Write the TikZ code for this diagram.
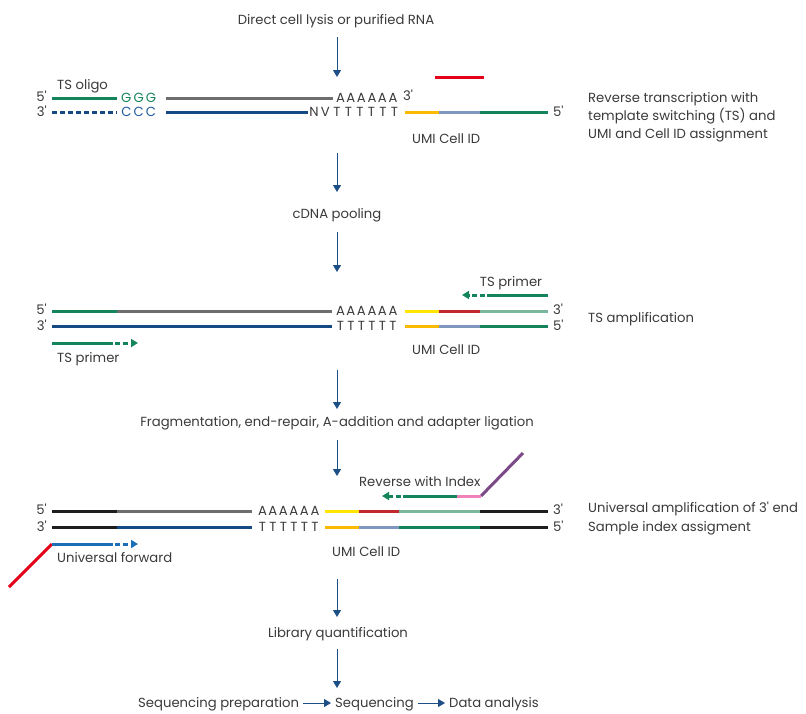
\documentclass[tikz,border=0pt]{standalone}
\usepackage{fontspec}
\setmainfont{Poppins}
\usetikzlibrary{arrows.meta}
\definecolor{txtc}{HTML}{3A3A3A}
\definecolor{flowc}{HTML}{1D4F87}
\definecolor{tsgreen}{HTML}{14855A}
\definecolor{strgray}{HTML}{6D6D6D}
\definecolor{dblue}{HTML}{164A85}
\definecolor{yel}{HTML}{FFE600}
\definecolor{ora}{HTML}{FBBA00}
\definecolor{lblue}{HTML}{7F97C0}
\definecolor{redbar}{HTML}{E2001A}
\definecolor{dred}{HTML}{C1272D}
\definecolor{lgreen}{HTML}{7AB79C}
\definecolor{blk}{HTML}{1E1E1E}
\definecolor{pinkc}{HTML}{EE82B9}
\definecolor{purp}{HTML}{7D4A88}
\definecolor{ublue}{HTML}{1C6FB7}
\definecolor{cccblue}{HTML}{1F5AA0}
\newcommand\Lx[1]{\makebox[10.5pt]{#1}}
\newcommand\Ly[1]{\makebox[11.5pt]{#1}}
\newcommand\Lg[1]{\makebox[12.3pt]{#1}}
\newcommand\pr{\textquotesingle}
\begin{document}
\begin{tikzpicture}[x=1pt,y=-1pt,
  font=\fontsize{13.2}{16}\selectfont,
  lbl/.style={inner sep=0pt, text=txtc, text height=9pt, text depth=0pt},
  flow/.style={draw=flowc, line width=1pt, -{Triangle[width=8pt,length=7pt]}},
  strand/.style={line width=3pt},
  dsh/.style={line width=3pt, dash pattern=on 5pt off 3pt},
  tip/.style={-{Triangle[width=8pt,length=7pt]}}]
\useasboundingbox (0,0) rectangle (806,713);

% ---------- flow column ----------
\node[lbl] (lysis) at (336,20) {Direct cell lysis or purified RNA};
\coordinate (a1s) at (337,37); \coordinate (a1e) at (337,77);
\draw[flow] (a1s) -- (a1e);

% ---------- row 1 ----------
\node[lbl, anchor=east] (r1f5) at (47,97) {5\pr};
\node[lbl, anchor=east] (r1f3) at (47,112) {3\pr};
\node[lbl, anchor=west] (tsoligo) at (57,85) {TS oligo};
\coordinate (r1a) at (52,98); \coordinate (r1b) at (117,98);
\draw[strand, tsgreen] (r1a) -- (r1b);
\node[lbl, anchor=west, text=tsgreen] (ggg) at (120,98) {\Lg G\Lg G\Lg G};
\coordinate (r1c) at (166,98); \coordinate (r1d) at (333,98);
\draw[strand, strgray] (r1c) -- (r1d);
\node[lbl, anchor=west] (r1A) at (335,98) {\Lx A\Lx A\Lx A\Lx A\Lx A\Lx A};
\node[lbl, anchor=west] (r1t3) at (403,96) {3\pr};
\coordinate (r1e) at (52,112); \coordinate (r1f) at (117,112);
\draw[dsh, dblue] (r1e) -- (r1f);
\node[lbl, anchor=west, text=cccblue] (ccc) at (120,112) {\Lg C\Lg C\Lg C};
\coordinate (r1g) at (166,112); \coordinate (r1h) at (308,112);
\draw[strand, dblue] (r1g) -- (r1h);
\node[lbl, anchor=west] (r1T) at (308,112) {\Ly N\Ly V\Ly T\Ly T\Ly T\Ly T\Ly T\Ly T};
\coordinate (r1i) at (405,112); \coordinate (r1j) at (439,112);
\coordinate (r1k) at (480,112); \coordinate (r1l) at (548,112);
\draw[strand, ora] (r1i) -- (r1j);
\draw[strand, lblue] (r1j) -- (r1k);
\draw[strand, tsgreen] (r1k) -- (r1l);
\node[lbl, anchor=west] (r1b5) at (553,112) {5\pr};
\coordinate (rb1) at (435,77); \coordinate (rb2) at (484,77);
\draw[strand, redbar] (rb1) -- (rb2);
\node[lbl, anchor=west] (umi1) at (412,139) {UMI Cell ID};
\node[lbl, anchor=west, text depth=0pt] (d1a) at (588,98) {Reverse transcription with};
\node[lbl, anchor=west] (d1b) at (588,116) {template switching (TS) and};
\node[lbl, anchor=west] (d1c) at (588,134) {UMI and Cell ID assignment};

\coordinate (a2s) at (337,153); \coordinate (a2e) at (337,192);
\draw[flow] (a2s) -- (a2e);
\node[lbl] (pool) at (337,214) {cDNA pooling};
\coordinate (a3s) at (337,232); \coordinate (a3e) at (337,272);
\draw[flow] (a3s) -- (a3e);

% ---------- row 2 ----------
\node[lbl, anchor=east] (r2f5) at (47,310) {5\pr};
\node[lbl, anchor=east] (r2f3) at (47,326) {3\pr};
\coordinate (r2a) at (52,311); \coordinate (r2b) at (117,311); \coordinate (r2c) at (332,311);
\draw[strand, tsgreen] (r2a) -- (r2b);
\draw[strand, strgray] (r2b) -- (r2c);
\node[lbl, anchor=west] (r2A) at (335,311) {\Lx A\Lx A\Lx A\Lx A\Lx A\Lx A};
\coordinate (r2d) at (52,326); \coordinate (r2e) at (332,326);
\draw[strand, dblue] (r2d) -- (r2e);
\node[lbl, anchor=west] (r2T) at (335,326) {\Lx T\Lx T\Lx T\Lx T\Lx T\Lx T};
\coordinate (r2f) at (405,311); \coordinate (r2g) at (439,311);
\coordinate (r2h) at (480,311); \coordinate (r2i) at (548,311);
\draw[strand, yel] (r2f) -- (r2g);
\draw[strand, dred] (r2g) -- (r2h);
\draw[strand, lgreen] (r2h) -- (r2i);
\node[lbl, anchor=west] (r2t3) at (553,310) {3\pr};
\coordinate (r2j) at (405,326); \coordinate (r2k) at (439,326);
\coordinate (r2l) at (480,326); \coordinate (r2m) at (548,326);
\draw[strand, ora] (r2j) -- (r2k);
\draw[strand, lblue] (r2k) -- (r2l);
\draw[strand, tsgreen] (r2l) -- (r2m);
\node[lbl, anchor=west] (r2b5) at (553,326) {5\pr};
% TS primers
\coordinate (p1a) at (548,295); \coordinate (p1b) at (487,295); \coordinate (p1c) at (462,295);
\draw[strand, tsgreen] (p1a) -- (p1b);
\draw[dsh, tsgreen, tip] ([xshift=-2pt]p1b) -- (p1c);
\node[lbl] (tsp1) at (511,282) {TS primer};
\coordinate (p2a) at (52,343); \coordinate (p2b) at (113,343); \coordinate (p2c) at (138,343);
\draw[strand, tsgreen] (p2a) -- (p2b);
\draw[dsh, tsgreen, tip] ([xshift=2pt]p2b) -- (p2c);
\node[lbl, anchor=west] (tsp2) at (57,358) {TS primer};
\node[lbl, anchor=west] (umi2) at (412,350) {UMI Cell ID};
\node[lbl, anchor=west] (d2) at (588,318) {TS amplification};

\coordinate (a4s) at (337,370); \coordinate (a4e) at (337,409);
\draw[flow] (a4s) -- (a4e);
\node[lbl] (frag) at (337,422) {Fragmentation, end-repair, A-addition and adapter ligation};
\coordinate (a5s) at (337,440); \coordinate (a5e) at (337,476);
\draw[flow] (a5s) -- (a5e);

% ---------- row 3 ----------
\node[lbl, anchor=east] (r3f5) at (47,510) {5\pr};
\node[lbl, anchor=east] (r3f3) at (47,527) {3\pr};
\coordinate (r3a) at (52,511); \coordinate (r3b) at (117,511); \coordinate (r3c) at (252,511);
\draw[strand, blk] (r3a) -- (r3b);
\draw[strand, strgray] (r3b) -- (r3c);
\node[lbl, anchor=west] (r3A) at (257,511) {\Lx A\Lx A\Lx A\Lx A\Lx A\Lx A};
\coordinate (r3d) at (325,511); \coordinate (r3e) at (359,511); \coordinate (r3f) at (399,511);
\coordinate (r3g) at (480,511); \coordinate (r3h) at (548,511);
\draw[strand, yel] (r3d) -- (r3e);
\draw[strand, dred] (r3e) -- (r3f);
\draw[strand, lgreen] (r3f) -- (r3g);
\draw[strand, blk] (r3g) -- (r3h);
\node[lbl, anchor=west] (r3t3) at (553,510) {3\pr};
\coordinate (r3i) at (52,527); \coordinate (r3j) at (117,527); \coordinate (r3k) at (252,527);
\draw[strand, blk] (r3i) -- (r3j);
\draw[strand, dblue] (r3j) -- (r3k);
\node[lbl, anchor=west] (r3T) at (257,527) {\Lx T\Lx T\Lx T\Lx T\Lx T\Lx T};
\coordinate (r3l) at (325,527); \coordinate (r3m) at (359,527); \coordinate (r3n) at (399,527);
\coordinate (r3o) at (480,527); \coordinate (r3p) at (548,527);
\draw[strand, ora] (r3l) -- (r3m);
\draw[strand, lblue] (r3m) -- (r3n);
\draw[strand, tsgreen] (r3n) -- (r3o);
\draw[strand, blk] (r3o) -- (r3p);
\node[lbl, anchor=west] (r3b5) at (553,527) {5\pr};
% universal forward
\coordinate (u0) at (9,587); \coordinate (u1) at (52,544); \coordinate (u2) at (113,544); \coordinate (u3) at (138,544);
\draw[strand, redbar] (u0) -- (u1);
\draw[strand, ublue] (u1) -- (u2);
\draw[dsh, ublue, tip] ([xshift=2pt]u2) -- (u3);
\node[lbl, anchor=west] (ufwd) at (57,558) {Universal forward};
% reverse with index
\coordinate (v0) at (523,453); \coordinate (v1) at (481,496); \coordinate (v2) at (457,496);
\coordinate (v3) at (403,496); \coordinate (v4) at (382,496);
\draw[strand, purp] (v0) -- (v1);
\draw[strand, pinkc] (v1) -- (v2);
\draw[strand, tsgreen] (v2) -- (v3);
\draw[dsh, tsgreen, tip] ([xshift=-2pt]v3) -- (v4);
\node[lbl, anchor=west] (rwi) at (359,482) {Reverse with Index};
\node[lbl, anchor=west] (umi3) at (332,552) {UMI Cell ID};
\node[lbl, anchor=west] (d3a) at (588,508) {Universal amplification of 3\pr{} end};
\node[lbl, anchor=west] (d3b) at (588,527) {Sample index assigment};

\coordinate (a6s) at (337,579); \coordinate (a6e) at (337,617);
\draw[flow] (a6s) -- (a6e);
\node[lbl] (libq) at (338,633) {Library quantification};
\coordinate (a7s) at (337,649); \coordinate (a7e) at (337,688);
\draw[flow] (a7s) -- (a7e);

\node[lbl, anchor=west] (seqp) at (138,703) {Sequencing preparation};
\node[lbl, anchor=west] (seq) at (335,703) {Sequencing};
\node[lbl, anchor=west] (data) at (449,703) {Data analysis};
\draw[flow] ([xshift=4pt]seqp.east) -- ([xshift=-4pt]seq.west);
\draw[flow] ([xshift=4pt]seq.east) -- ([xshift=-4pt]data.west);
\end{tikzpicture}
\end{document}
